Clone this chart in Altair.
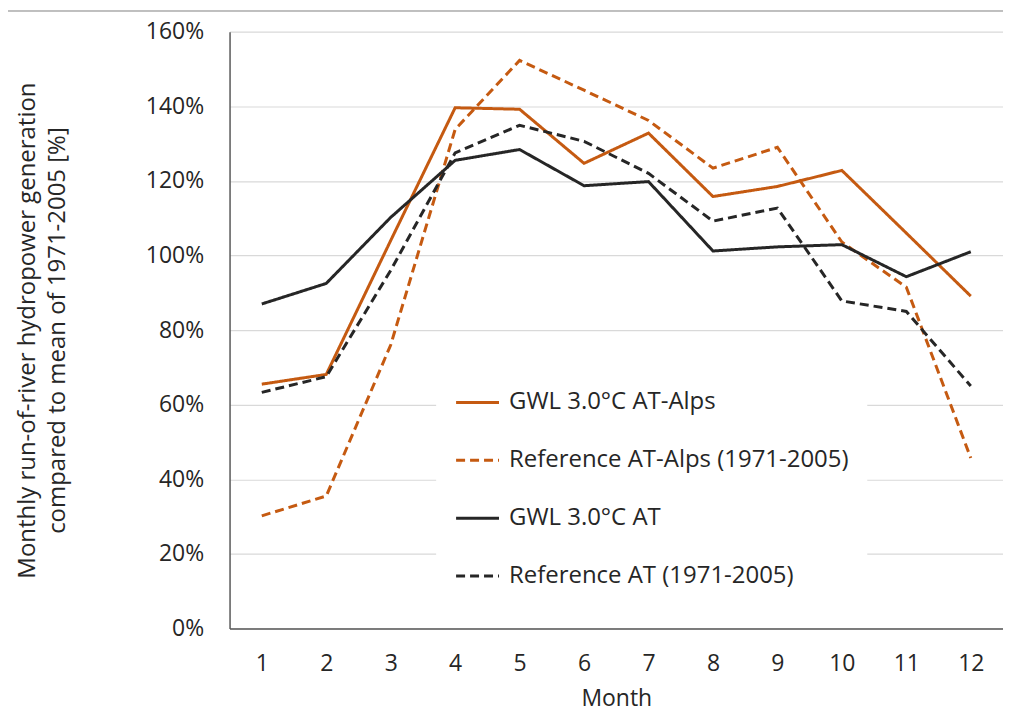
import altair as alt
import pandas as pd

months = list(range(1, 13))
series_names = [
    "GWL 3.0°C AT-Alps",
    "Reference AT-Alps (1971-2005)",
    "GWL 3.0°C AT",
    "Reference AT (1971-2005)",
]
gwl_alps = [65.5, 68.1, 104.0, 139.6, 139.2, 124.7, 132.8, 115.8, 118.5, 122.8, 106.0, 89.1]
ref_alps = [30.2, 35.5, 76.0, 133.8, 152.3, 144.3, 136.2, 123.4, 129.0, 103.6, 91.5, 45.7]
gwl_at = [87.0, 92.5, 110.2, 125.5, 128.4, 118.7, 119.8, 101.2, 102.3, 102.9, 94.3, 101.0]
ref_at = [63.3, 67.5, 96.0, 127.5, 134.9, 130.6, 122.0, 109.2, 112.7, 87.8, 85.0, 65.0]

colors = ["#C55A11", "#C55A11", "#262626", "#262626"]
dashes = [[1, 0], [9, 5], [1, 0], [9, 5]]

rows = []
for name, vals in zip(series_names, [gwl_alps, ref_alps, gwl_at, ref_at]):
    for m, v in zip(months, vals):
        rows.append({"Month": m, "Value": v / 100.0, "Series": name})
df = pd.DataFrame(rows)

FONT = "Open Sans"
FS = 23

legend = alt.Legend(
    orient="none", legendX=207, legendY=330, fillColor="white", padding=18,
    symbolType="stroke", symbolSize=1850, symbolStrokeWidth=3,
    labelFontSize=24, labelFont=FONT, labelColor="#262626", rowPadding=22,
    title=None, labelOffset=8, labelLimit=600,
)

lines = alt.Chart(df).mark_line(strokeWidth=3).encode(
    x=alt.X("Month:O", title="Month",
            scale=alt.Scale(padding=0.5),
            axis=alt.Axis(labelAngle=0, labelFontSize=FS, labelFont=FONT, labelColor="#262626",
                          titleFontSize=23, titleFont=FONT, titleFontWeight="normal", titleColor="#262626",
                          ticks=False, labelPadding=24, titlePadding=12,
                          domainColor="#595959", domainWidth=1.5)),
    y=alt.Y("Value:Q", title=["Monthly run-of-river hydropower generation", "compared to mean of 1971-2005 [%]"],
            scale=alt.Scale(domain=[0, 1.6], nice=False),
            axis=alt.Axis(format="%", values=[0, 0.2, 0.4, 0.6, 0.8, 1.0, 1.2, 1.4, 1.6],
                          labelFontSize=FS, labelFont=FONT, labelColor="#262626",
                          titleFontSize=24, titleFont=FONT, titleFontWeight="normal", titleColor="#262626",
                          titleLineHeight=30,
                          ticks=False, labelPadding=26, titlePadding=76,
                          gridColor="#d9d9d9", gridWidth=1.2,
                          domainColor="#595959", domainWidth=1.5)),
    color=alt.Color("Series:N", sort=series_names,
                    scale=alt.Scale(domain=series_names, range=colors), legend=legend),
    strokeDash=alt.StrokeDash("Series:N", sort=series_names,
                              scale=alt.Scale(domain=series_names, range=dashes), legend=legend),
    order=alt.Order("Month:O"),
)

top_rule = alt.Chart(df).mark_rule(color="#bfbfbf", strokeWidth=1.5).encode(
    x=alt.value(-222), x2=alt.value(790), y=alt.value(-21)
)

chart = alt.layer(lines, top_rule).properties(
    width=775, height=598,
    autosize=alt.AutoSizeParams(type="none"),
    padding={"left": 222, "top": 23, "right": 0, "bottom": 84},
).configure_view(stroke=None)

chart.save("out.html", embed_options={"renderer": "svg", "actions": False})
